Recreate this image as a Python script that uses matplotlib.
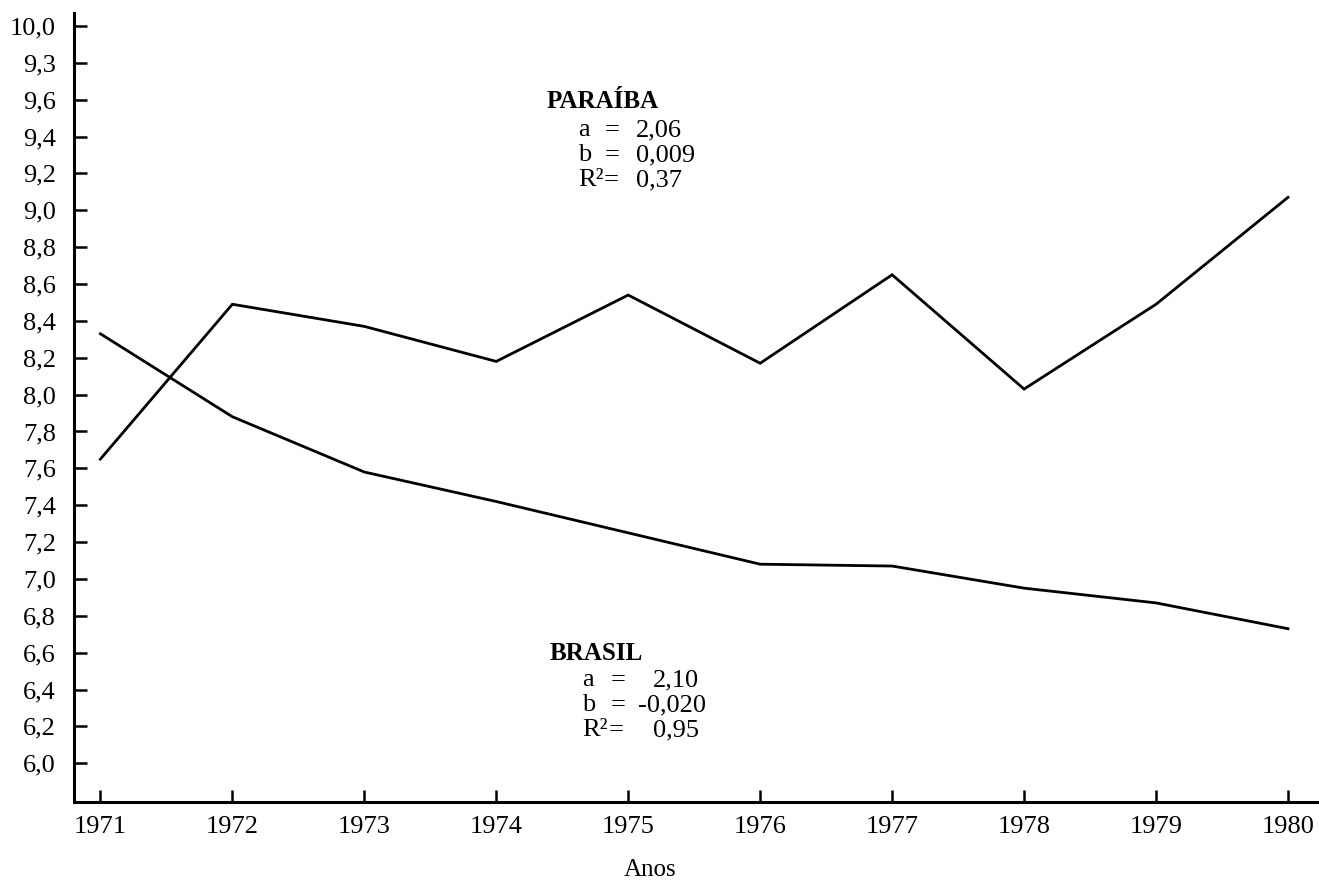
import matplotlib
matplotlib.use("Agg")
import matplotlib.pyplot as plt

# data
anos = [1971, 1972, 1973, 1974, 1975, 1976, 1977, 1978, 1979, 1980]
paraiba = [7.65, 8.49, 8.37, 8.18, 8.54, 8.17, 8.65, 8.03, 8.49, 9.07]
brasil = [8.33, 7.88, 7.58, 7.42, 7.25, 7.08, 7.07, 6.95, 6.87, 6.73]

ytick_values = [6.0, 6.2, 6.4, 6.6, 6.8, 7.0, 7.2, 7.4, 7.6, 7.8, 8.0,
                8.2, 8.4, 8.6, 8.8, 9.0, 9.2, 9.4, 9.6, 9.8, 10.0]
ytick_labels = ["6,0", "6,2", "6,4", "6,6", "6,8", "7,0", "7,2", "7,4", "7,6",
                "7,8", "8,0", "8,2", "8,4", "8,6", "8,8", "9,0", "9,2", "9,4",
                "9,6", "9,3", "10,0"]

paraiba_stats = [("a", "=", "2,06"), ("b", "=", "0,009"), ("R²", "=", "0,37")]
brasil_stats = [("a", "=", "2,10"), ("b", "=", "-0,020"), ("R²", "=", "0,95")]

plt.rcParams["font.family"] = ["Liberation Serif", "DejaVu Serif"]

fig = plt.figure(figsize=(13.19, 8.82), dpi=100)
ax = fig.add_axes([74 / 1319, 1 - 802 / 882, 1 - 74 / 1319, (802 - 13) / 882])

ax.plot(anos, paraiba, color="black", lw=2.0, solid_joinstyle="miter")
ax.plot(anos, brasil, color="black", lw=2.0, solid_joinstyle="miter")

ax.set_xlim(1970.80, 1980.235)
ax.set_ylim(5.79, 10.07)

ax.set_xticks(anos)
ax.set_xticklabels([str(a) for a in anos])
ax.set_yticks(ytick_values)
ax.set_yticklabels(ytick_labels)

for side in ["top", "right"]:
    ax.spines[side].set_visible(False)
for side in ["left", "bottom"]:
    ax.spines[side].set_linewidth(2.2)

ax.tick_params(axis="both", direction="in", length=9, width=1.8,
               labelsize=19, colors="black")
ax.tick_params(axis="x", pad=10)
ax.tick_params(axis="y", pad=13)

fig.text(650 / 1319, 1 - 870 / 882, "Anos", ha="center", va="center", fontsize=18)


def px(x, y):
    return x / 1319, 1 - y / 882


# PARAIBA block
fig.text(*px(547, 101), "PARAÍBA", ha="left", va="center", fontsize=18,
         fontweight="bold")
for i, (lab, eq, val) in enumerate(paraiba_stats):
    y = 130 + 25 * i
    fig.text(*px(578, y), lab, ha="left", va="center", fontsize=19)
    fig.text(*px(611 if lab == "R²" else 612, y), eq, ha="center", va="center", fontsize=19)
    fig.text(*px(636, y), val, ha="left", va="center", fontsize=19)

# BRASIL block
fig.text(*px(550, 653), "BRASIL", ha="left", va="center", fontsize=18,
         fontweight="bold")
for i, (lab, eq, val) in enumerate(brasil_stats):
    y = 680 + 25 * i
    fig.text(*px(582, y), lab, ha="left", va="center", fontsize=19)
    fig.text(*px(616 if lab == "R²" else 618, y), eq, ha="center", va="center", fontsize=19)
    xv = 638 if val.startswith("-") else 653
    fig.text(*px(xv, y), val, ha="left", va="center", fontsize=19)

fig.savefig("out.png", dpi=100, facecolor="white")
